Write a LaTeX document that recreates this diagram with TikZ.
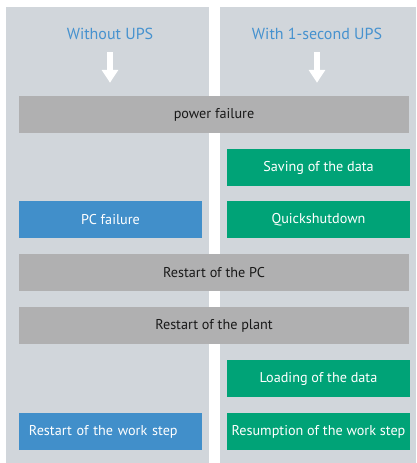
\documentclass[tikz,border=0pt]{standalone}
\usepackage{fontspec}
\setmainfont{PT Sans}
\usetikzlibrary{arrows.meta, positioning}
\definecolor{panelbg}{RGB}{209, 214, 219}
\definecolor{stepgray}{RGB}{176, 176, 177}
\definecolor{stepblue}{RGB}{65, 143, 202}
\definecolor{stepgreen}{RGB}{0, 163, 119}
\definecolor{titleblue}{RGB}{70, 146, 207}
\definecolor{textdark}{RGB}{25, 25, 25}

\begin{document}
\begin{tikzpicture}[
            x=1bp, y=1bp,
            bar/.style={rectangle, fill=stepgray, text=textdark, minimum width=390bp, minimum height=37bp, inner sep=0pt, font=\fontsize{14.2bp}{16bp}\selectfont},
            half/.style={rectangle, text=white, minimum width=183bp, minimum height=37bp, inner sep=0pt, font=\fontsize{14.2bp}{16bp}\selectfont},
            bluebox/.style={half, fill=stepblue},
            greenbox/.style={half, fill=stepgreen},
            title/.style={text=titleblue, font=\fontsize{16bp}{18bp}\selectfont},
            bigarrow/.style={white, line width=6bp, -{Triangle[width=16bp, length=13bp]}}
        ]
            \useasboundingbox (0,0) rectangle (416,-463);

            % panels
            \fill[panelbg] (6,-7) rectangle (209,-463);
            \fill[panelbg] (220,-7) rectangle (416,-463);

            % titles
            \node[title] (without) at (110,-34) {Without UPS};
            \node[title] (with) at (317,-34) {With 1-second UPS};

            % shared steps
            \node[bar] (power) at (214,-114.5) {power failure};
            \node[bar] (restartpc) at (214,-272.5) {Restart of the PC};
            \node[bar] (plant) at (214,-325.5) {Restart of the plant};

            % without UPS
            \node[bluebox] (pcfail) at (110.5,-219.5) {PC failure};
            \node[bluebox, text width=163bp, inner xsep=10bp, minimum width=183bp, align=left] (workstep) at (110.5,-431.5) {Restart of the work step};

            % with UPS
            \node[greenbox] (saving) at (318.5,-167.5) {Saving of the data};
            \node[greenbox] (quick) at (318.5,-219.5) {Quickshutdown};
            \node[greenbox] (loading) at (318.5,-378.5) {Loading of the data};
            \node[greenbox] (resume) at (318.5,-431.5) {Resumption of the work step};

            % arrows
            \draw[bigarrow, shorten <=9bp, shorten >=13bp] (without.south) -- (without.south |- power.north);
            \draw[bigarrow, shorten <=9bp, shorten >=13bp] (with.south) -- (with.south |- power.north);
        \end{tikzpicture}
\end{document}
